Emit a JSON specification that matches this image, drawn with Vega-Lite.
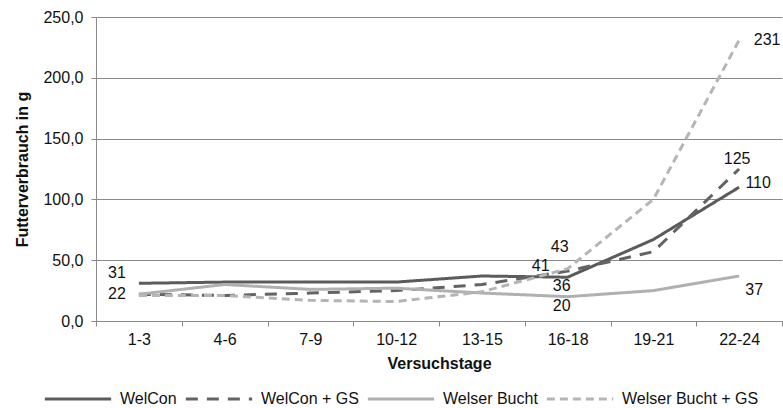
{
  "$schema": "https://vega.github.io/schema/vega-lite/v6.json",
  "width": 686,
  "height": 304,
  "autosize": {"type": "none"},
  "padding": {"left": 96, "top": 17, "right": 1, "bottom": 87},
  "background": "white",
  "config": {
    "view": {"stroke": null},
    "font": "Liberation Sans",
    "text": {"font": "Liberation Sans", "fontSize": 16, "color": "#111111"}
  },
  "data": {
    "values": [
      {"tage": "1-3", "serie": "WelCon", "wert": 31},
      {"tage": "4-6", "serie": "WelCon", "wert": 32},
      {"tage": "7-9", "serie": "WelCon", "wert": 32},
      {"tage": "10-12", "serie": "WelCon", "wert": 32},
      {"tage": "13-15", "serie": "WelCon", "wert": 37},
      {"tage": "16-18", "serie": "WelCon", "wert": 36},
      {"tage": "19-21", "serie": "WelCon", "wert": 67},
      {"tage": "22-24", "serie": "WelCon", "wert": 110},
      {"tage": "1-3", "serie": "WelCon + GS", "wert": 22},
      {"tage": "4-6", "serie": "WelCon + GS", "wert": 21},
      {"tage": "7-9", "serie": "WelCon + GS", "wert": 23},
      {"tage": "10-12", "serie": "WelCon + GS", "wert": 25},
      {"tage": "13-15", "serie": "WelCon + GS", "wert": 30},
      {"tage": "16-18", "serie": "WelCon + GS", "wert": 41},
      {"tage": "19-21", "serie": "WelCon + GS", "wert": 57},
      {"tage": "22-24", "serie": "WelCon + GS", "wert": 125},
      {"tage": "1-3", "serie": "Welser Bucht", "wert": 22},
      {"tage": "4-6", "serie": "Welser Bucht", "wert": 30},
      {"tage": "7-9", "serie": "Welser Bucht", "wert": 26},
      {"tage": "10-12", "serie": "Welser Bucht", "wert": 27},
      {"tage": "13-15", "serie": "Welser Bucht", "wert": 23},
      {"tage": "16-18", "serie": "Welser Bucht", "wert": 20},
      {"tage": "19-21", "serie": "Welser Bucht", "wert": 25},
      {"tage": "22-24", "serie": "Welser Bucht", "wert": 37},
      {"tage": "1-3", "serie": "Welser Bucht + GS", "wert": 21},
      {"tage": "4-6", "serie": "Welser Bucht + GS", "wert": 21},
      {"tage": "7-9", "serie": "Welser Bucht + GS", "wert": 17},
      {"tage": "10-12", "serie": "Welser Bucht + GS", "wert": 16},
      {"tage": "13-15", "serie": "Welser Bucht + GS", "wert": 24},
      {"tage": "16-18", "serie": "Welser Bucht + GS", "wert": 43},
      {"tage": "19-21", "serie": "Welser Bucht + GS", "wert": 100},
      {"tage": "22-24", "serie": "Welser Bucht + GS", "wert": 231}
    ]
  },
  "encoding": {
    "x": {
      "field": "tage",
      "type": "nominal",
      "bandPosition": 0.5,
      "sort": ["1-3", "4-6", "7-9", "10-12", "13-15", "16-18", "19-21", "22-24"],
      "scale": {"type": "band", "paddingInner": 0, "paddingOuter": 0},
      "axis": {
        "title": "Versuchstage",
        "titleFont": "Liberation Sans",
        "titleFontSize": 16,
        "titleFontWeight": "bold",
        "titleColor": "#111111",
        "titlePadding": 8,
        "labelFont": "Liberation Sans",
        "labelFontSize": 16,
        "labelColor": "#111111",
        "labelAngle": 0,
        "labelPadding": 5,
        "tickBand": "extent",
        "tickSize": 5,
        "tickColor": "#8a8a8a",
        "domainColor": "#8a8a8a",
        "grid": false
      }
    },
    "y": {
      "field": "wert",
      "type": "quantitative",
      "scale": {"domain": [0, 250], "nice": false},
      "axis": {
        "title": "Futterverbrauch in g",
        "titleFont": "Liberation Sans",
        "titleFontSize": 16,
        "titleFontWeight": "bold",
        "titleColor": "#111111",
        "titlePadding": 12,
        "values": [0, 50, 100, 150, 200, 250],
        "labelExpr": "replace(format(datum.value, '.1f'), '.', ',')",
        "labelFont": "Liberation Sans",
        "labelFontSize": 16,
        "labelColor": "#111111",
        "labelPadding": 8,
        "tickSize": 5,
        "tickColor": "#8a8a8a",
        "domainColor": "#8a8a8a",
        "grid": true,
        "gridColor": "#8a8a8a",
        "gridWidth": 1
      }
    }
  },
  "layer": [
    {
      "mark": {"type": "line", "strokeWidth": 3},
      "encoding": {
        "color": {
          "field": "serie",
          "type": "nominal",
          "scale": {
            "domain": ["WelCon", "WelCon + GS", "Welser Bucht", "Welser Bucht + GS"],
            "range": ["#5b5b5b", "#636363", "#b0b0b0", "#b5b5b5"]
          },
          "legend": {
            "title": null,
            "orient": "none",
            "direction": "horizontal",
            "legendX": -53,
            "legendY": 347,
            "symbolType": "stroke",
            "symbolSize": 4400,
            "symbolStrokeWidth": 3,
            "labelFont": "Liberation Sans",
            "labelFontSize": 16,
            "labelColor": "#111111",
            "labelOffset": 7,
            "columnPadding": 2
          }
        },
        "strokeDash": {
          "field": "serie",
          "type": "nominal",
          "scale": {
            "domain": ["WelCon", "WelCon + GS", "Welser Bucht", "Welser Bucht + GS"],
            "range": [[1, 0], [12, 9], [1, 0], [8, 5]]
          },
          "legend": {
            "title": null,
            "orient": "none",
            "direction": "horizontal",
            "legendX": -53,
            "legendY": 347,
            "symbolType": "stroke",
            "symbolSize": 4400,
            "symbolStrokeWidth": 3,
            "labelFont": "Liberation Sans",
            "labelFontSize": 16,
            "labelColor": "#111111",
            "labelOffset": 7,
            "columnPadding": 2
          }
        }
      }
    },
    {
      "transform": [{"filter": "datum.serie === 'WelCon' && datum.tage === '1-3'"}],
      "mark": {"type": "text", "dx": -22, "dy": -10},
      "encoding": {"text": {"field": "wert", "type": "quantitative", "format": ".0f"}}
    },
    {
      "transform": [{"filter": "datum.serie === 'WelCon + GS' && datum.tage === '1-3'"}],
      "mark": {"type": "text", "dx": -22, "dy": 0},
      "encoding": {"text": {"field": "wert", "type": "quantitative", "format": ".0f"}}
    },
    {
      "transform": [{"filter": "datum.serie === 'Welser Bucht + GS' && datum.tage === '16-18'"}],
      "mark": {"type": "text", "dx": -8, "dy": -22},
      "encoding": {"text": {"field": "wert", "type": "quantitative", "format": ".0f"}}
    },
    {
      "transform": [{"filter": "datum.serie === 'WelCon + GS' && datum.tage === '16-18'"}],
      "mark": {"type": "text", "dx": -27, "dy": -5},
      "encoding": {"text": {"field": "wert", "type": "quantitative", "format": ".0f"}}
    },
    {
      "transform": [{"filter": "(datum.serie === 'WelCon' || datum.serie === 'Welser Bucht') && datum.tage === '16-18'"}],
      "mark": {"type": "text", "dx": -6, "dy": 9},
      "encoding": {"text": {"field": "wert", "type": "quantitative", "format": ".0f"}}
    },
    {
      "transform": [{"filter": "datum.serie === 'Welser Bucht + GS' && datum.tage === '22-24'"}],
      "mark": {"type": "text", "dx": 28, "dy": 0},
      "encoding": {"text": {"field": "wert", "type": "quantitative", "format": ".0f"}}
    },
    {
      "transform": [{"filter": "datum.serie === 'WelCon + GS' && datum.tage === '22-24'"}],
      "mark": {"type": "text", "dx": -2, "dy": -10},
      "encoding": {"text": {"field": "wert", "type": "quantitative", "format": ".0f"}}
    },
    {
      "transform": [{"filter": "datum.serie === 'WelCon' && datum.tage === '22-24'"}],
      "mark": {"type": "text", "dx": 19, "dy": -4},
      "encoding": {"text": {"field": "wert", "type": "quantitative", "format": ".0f"}}
    },
    {
      "transform": [{"filter": "datum.serie === 'Welser Bucht' && datum.tage === '22-24'"}],
      "mark": {"type": "text", "dx": 15, "dy": 14},
      "encoding": {"text": {"field": "wert", "type": "quantitative", "format": ".0f"}}
    }
  ]
}
